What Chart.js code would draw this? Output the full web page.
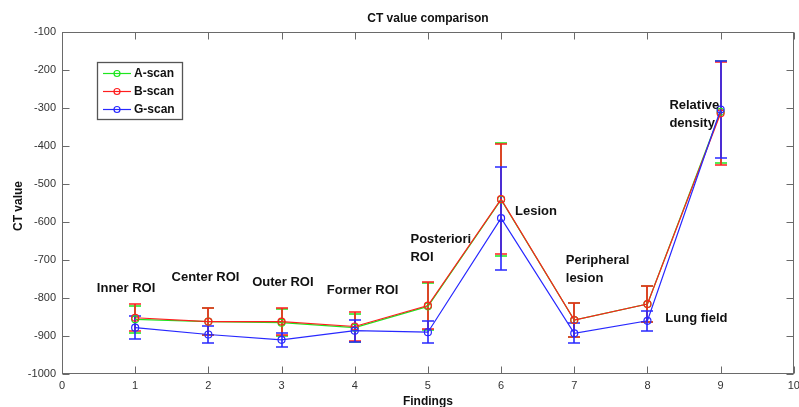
<!DOCTYPE html>
<html><head><meta charset="utf-8">
<script src="https://cdn.jsdelivr.net/npm/chart.js@4/dist/chart.umd.min.js"></script>
<style>html,body{margin:0;padding:0;background:#fff;overflow:hidden}</style>
</head><body>
<canvas id="c" width="799" height="407"></canvas>
<script>
// ---- data ----
const findings = [1, 2, 3, 4, 5, 6, 7, 8, 9];
const seriesNames = ['A-scan', 'B-scan', 'G-scan'];
const aScan = [-856, -862, -865, -878, -822, -541, -858, -816, -310];
const aErr  = [36, 36, 35, 37, 62, 148, 45, 48, 134];
const bScan = [-852, -862, -862, -875, -820, -540, -858, -816, -314];
const bErr  = [35, 36, 35, 38, 62, 144, 45, 48, 135];
const gScan = [-878, -896, -910, -886, -890, -590, -893, -860, -304];
const gErr  = [30, 22, 18, 29, 29, 135, 26, 26, 127];
const xTicks = [0, 1, 2, 3, 4, 5, 6, 7, 8, 9, 10];
const yTicks = [-1000, -900, -800, -700, -600, -500, -400, -300, -200, -100];
const chartTitle = 'CT value comparison';
const xTitle = 'Findings';
const yTitle = 'CT value';
const noteTexts = [['Inner ROI'], ['Center ROI'], ['Outer ROI'], ['Former ROI'], ['Posteriori', 'ROI'], ['Lesion'], ['Peripheral', 'lesion'], ['Lung field'], ['Relative', 'density']];

// ---- presentation ----
const colors = ['rgb(30,230,30)', 'rgb(255,30,30)', 'rgb(40,40,255)'];
const seriesVals = [aScan, bScan, gScan];
const seriesErr = [aErr, bErr, gErr];
// annotation anchors in data units (left edge, middle of first line)
const noteAnchors = [[0.476, -776], [1.497, -745], [2.599, -758], [3.619, -779], [4.762, -647], [6.19, -571], [6.884, -700], [8.245, -853], [8.30, -292]];

const errorBarPlugin = {
  id: 'errorBars',
  beforeDatasetsDraw(chart) {
    const xs = chart.scales.x, ys = chart.scales.y;
    const ctx = chart.ctx;
    ctx.save();
    ctx.lineWidth = 1.6;
    for (let i = 0; i < seriesVals.length; i++) {
      ctx.strokeStyle = colors[i];
      seriesVals[i].forEach((v, k) => {
        const px = Math.round(xs.getPixelForValue(findings[k]));
        const top = Math.round(ys.getPixelForValue(v + seriesErr[i][k]));
        const bot = Math.round(ys.getPixelForValue(v - seriesErr[i][k]));
        ctx.beginPath();
        ctx.moveTo(px, top);
        ctx.lineTo(px, bot);
        ctx.moveTo(px - 6, top);
        ctx.lineTo(px + 6, top);
        ctx.moveTo(px - 6, bot);
        ctx.lineTo(px + 6, bot);
        ctx.stroke();
      });
    }
    ctx.restore();
  }
};

const framePlugin = {
  id: 'frame',
  afterDraw(chart) {
    const ctx = chart.ctx;
    const a = chart.chartArea;
    const xs = chart.scales.x, ys = chart.scales.y;
    ctx.save();
    ctx.strokeStyle = '#6a6a6a';
    ctx.lineWidth = 1;
    const L = Math.round(a.left) + 0.5, R = Math.round(a.right) - 0.5;
    const T = Math.round(a.top) + 0.5, B = Math.round(a.bottom) - 0.5;
    ctx.strokeRect(L, T, R - L, B - T);
    ctx.beginPath();
    const tl = 7;
    xTicks.forEach(t => {
      const px = Math.round(xs.getPixelForValue(t)) + 0.5;
      ctx.moveTo(px, B); ctx.lineTo(px, B - tl);
      ctx.moveTo(px, T); ctx.lineTo(px, T + tl);
    });
    yTicks.forEach(t => {
      const py = Math.round(ys.getPixelForValue(t)) + 0.5;
      ctx.moveTo(L, py); ctx.lineTo(L + tl, py);
      ctx.moveTo(R, py); ctx.lineTo(R - tl, py);
    });
    ctx.stroke();

    // titles
    ctx.fillStyle = '#111';
    ctx.font = 'bold 12px "Liberation Sans", Arial, sans-serif';
    ctx.textAlign = 'center';
    ctx.textBaseline = 'middle';
    ctx.fillText(chartTitle, (a.left + a.right) / 2, 19);
    ctx.fillText(xTitle, (a.left + a.right) / 2, 402);
    ctx.save();
    ctx.translate(19, 206);
    ctx.rotate(-Math.PI / 2);
    ctx.fillText(yTitle, 0, 0);
    ctx.restore();

    // annotations
    ctx.font = 'bold 13px "Liberation Sans", Arial, sans-serif';
    ctx.textAlign = 'left';
    ctx.fillStyle = '#111';
    noteTexts.forEach((lines, k) => {
      const px = xs.getPixelForValue(noteAnchors[k][0]);
      const py = ys.getPixelForValue(noteAnchors[k][1]);
      lines.forEach((ln, j) => ctx.fillText(ln, px, py + j * 18));
    });

    // legend
    const lx = 97.5, ly = 62.5, lw = 85, lh = 57;
    ctx.fillStyle = '#fff';
    ctx.fillRect(lx, ly, lw, lh);
    ctx.strokeStyle = '#555';
    ctx.lineWidth = 1.3;
    ctx.strokeRect(lx, ly, lw, lh);
    ctx.font = 'bold 12px "Liberation Sans", Arial, sans-serif';
    seriesNames.forEach((name, k) => {
      const y = 73.5 + k * 18;
      ctx.strokeStyle = colors[k];
      ctx.lineWidth = 1.2;
      ctx.beginPath();
      ctx.moveTo(103, y); ctx.lineTo(131, y);
      ctx.stroke();
      ctx.beginPath();
      ctx.arc(117, y, 3, 0, Math.PI * 2);
      ctx.stroke();
      ctx.fillStyle = '#111';
      ctx.fillText(name, 134, y + 0.5);
    });
    ctx.restore();
  }
};

const datasets = seriesNames.map((name, i) => ({
  label: name,
  data: findings.map((x, k) => ({ x, y: seriesVals[i][k] })),
  borderColor: colors[i],
  backgroundColor: 'rgba(0,0,0,0)',
  pointBackgroundColor: 'rgba(0,0,0,0)',
  pointBorderColor: colors[i],
  pointRadius: 3.5,
  pointBorderWidth: 1.2,
  borderWidth: 1.2,
  tension: 0,
  order: 3 - i
}));

new Chart(document.getElementById('c'), {
  type: 'line',
  data: { datasets },
  plugins: [errorBarPlugin, framePlugin],
  options: {
    responsive: false,
    animation: false,
    devicePixelRatio: 1,
    layout: { padding: { top: 32, right: 2, left: 0, bottom: 0 } },
    plugins: { legend: { display: false }, title: { display: false }, tooltip: { enabled: false } },
    scales: {
      x: {
        type: 'linear', min: 0, max: 10,
        afterBuildTicks(s) { s.ticks = xTicks.map(v => ({ value: v })); },
        afterFit(s) { s.height = 33; s.paddingLeft = 0; s.paddingRight = 0; },
        grid: { display: false, drawTicks: false },
        border: { display: false },
        ticks: { padding: 5, color: '#333', callback: v => String(v), font: { family: '"Liberation Sans", Arial, sans-serif', size: 11 }, maxRotation: 0, autoSkip: false }
      },
      y: {
        type: 'linear', min: -1000, max: -100,
        afterBuildTicks(s) { s.ticks = yTicks.map(v => ({ value: v })); },
        afterFit(s) { s.width = 62; s.paddingTop = 0; s.paddingBottom = 0; },
        grid: { display: false, drawTicks: false },
        border: { display: false },
        ticks: { padding: 6, color: '#333', callback: v => String(v), font: { family: '"Liberation Sans", Arial, sans-serif', size: 11 }, autoSkip: false }
      }
    }
  }
});
</script>
</body></html>
